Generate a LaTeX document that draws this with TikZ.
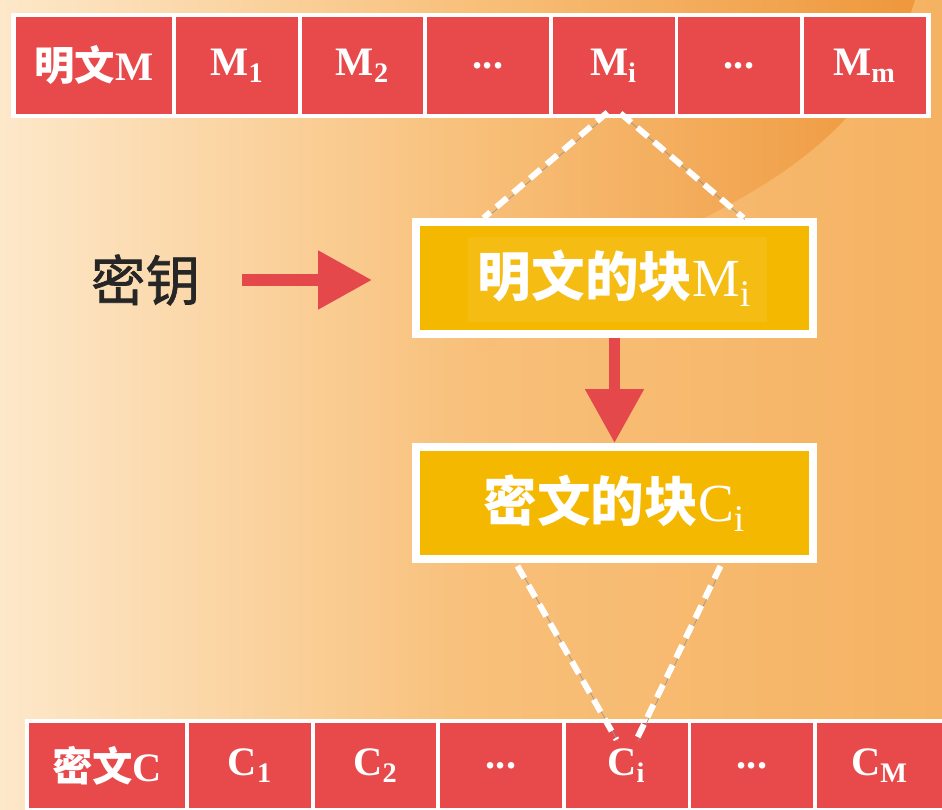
\documentclass[tikz,border=0pt]{standalone}
\usepackage{fontspec}
\setmainfont{Liberation Serif}
\newfontfamily\cjk{Noto Sans CJK SC}
\newfontfamily\cjkkey{Noto Sans CJK SC}[FakeBold=1.2]
\usetikzlibrary{arrows.meta,calc,shadows}
\definecolor{cellred}{HTML}{E84A4C}
\definecolor{blockyellow}{HTML}{F5B800}
\definecolor{arrowred}{HTML}{E5484B}
\definecolor{bgleft}{HTML}{FDE8CA}
\definecolor{bgmid}{HTML}{F8C07A}
\definecolor{bgright}{HTML}{F5B262}
\definecolor{swoosh}{HTML}{EE9538}
\definecolor{keyink}{HTML}{262626}

\begin{document}
\begin{tikzpicture}[x=0.02cm,y=-0.02cm,
  cell/.style={fill=cellred,text=white,inner sep=0pt,minimum width=2.44cm,
    minimum height=1.94cm,font=\fontsize{23}{24}\selectfont\bfseries},
  headcell/.style={cell,minimum width=3.12cm},
  lowcell/.style={cell,minimum height=1.7cm},
  lowhead/.style={lowcell,minimum width=3.12cm},
  block/.style={fill=blockyellow,draw=white,line width=0.16cm,
    minimum width=7.94cm,minimum height=2.24cm,inner sep=0pt,text=white,
    font=\fontsize{30.5}{32}\selectfont,
    drop shadow={opacity=0.25,shadow xshift=1.5pt,shadow yshift=-1.5pt}},
  dashline/.style={white,line width=0.12cm,dash pattern=on 0.28cm off 0.16cm,
    preaction={draw=black!40,transform canvas={shift={(0.8pt,-0.8pt)}}}},
  fatarrow/.style={arrowred,line width=0.23cm,
    -{Triangle[width=1.12cm,length=1.08cm]}}]
  \useasboundingbox (0,0) rectangle (942,810);
  % background
  \shade[left color=bgleft,right color=bgright,middle color=bgmid]
    (0,0) rectangle (942,810);
  \begin{scope}
    \clip (250,0) -- (915,0) .. controls (880,110) and (800,170) .. (700,220)
      .. controls (600,270) and (520,320) .. (420,400) -- cycle;
    \shade[left color=bgleft,right color=swoosh,middle color=bgmid]
      (0,0) rectangle (942,810);
  \end{scope}

  % plaintext row
  \fill[white] (11,13) rectangle (931,118);
  \node[headcell] (m0) at (94,65.5) {{\cjk 明文}M};
  \node[cell] (m1) at (237,65.5) {M\textsubscript{1}};
  \node[cell] (m2) at (362.5,65.5) {M\textsubscript{2}};
  \node[cell] (m3) at (488,65.5) {...};
  \node[cell] (m4) at (613.5,65.5) {M\textsubscript{i}};
  \node[cell] (m5) at (739,65.5) {...};
  \node[cell] (m6) at (864.5,65.5) {M\textsubscript{m}};

  % ciphertext row
  \fill[white] (25,719) rectangle (945,812);
  \node[lowhead] (c0) at (107,765.5) {{\cjk 密文}C};
  \node[lowcell] (c1) at (250,765.5) {C\textsubscript{1}};
  \node[lowcell] (c2) at (375.5,765.5) {C\textsubscript{2}};
  \node[lowcell] (c3) at (501,765.5) {...};
  \node[lowcell] (c4) at (626.5,765.5) {C\textsubscript{i}};
  \node[lowcell] (c5) at (752,765.5) {...};
  \node[lowcell,minimum width=2.52cm] (c6) at (879.5,765.5) {C\textsubscript{M}};

  % blocks
  \node[block] (pblock) at (614.5,278) {{\cjk\bfseries 明文的块}M\textsubscript{i}};
  \fill[white,opacity=0.08] ($(pblock.center)+(-147,-41)$) rectangle
    ($(pblock.center)+(152,44)$);
  \node[block] (cblock) at (614.5,503) {{\cjk\bfseries 密文的块}C\textsubscript{i}};
  \node[font=\cjkkey\fontsize{31}{32}\selectfont,text=keyink,inner sep=0pt]
    (key) at (145.5,280) {密钥};

  \draw[fatarrow,shorten <=0.84cm,shorten >=0.8cm] (key.east) -- (key.east -| pblock.west);
  \draw[fatarrow] (pblock.south) -- (cblock.north);

  \draw[dashline] ($(m4.south)+(-6,-2)$) -- ($(pblock.north)+(-131,0)$);
  \draw[dashline] ($(m4.south)+(7,-1)$) -- ($(pblock.north)+(129,0)$);
  \draw[dashline] ($(cblock.south)+(-97,3)$) -- ($(c4.north)+(-10,17)$);
  \draw[dashline] ($(cblock.south)+(106,3)$) -- ($(c4.north)+(10,17)$);
\end{tikzpicture}
\end{document}
